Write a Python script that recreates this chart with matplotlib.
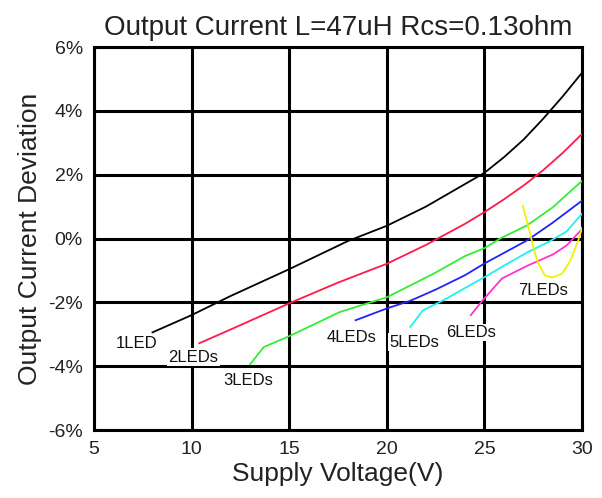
import matplotlib
matplotlib.use("Agg")
import matplotlib.pyplot as plt

plt.rcParams['font.family'] = ['Liberation Sans', 'DejaVu Sans']

# readings taken off the reference plot (V, % deviation)
v_1led = [8.0, 10.0, 12.0, 15.0, 18.0, 20.0, 22.0, 25.0, 26.0, 27.0, 28.0, 29.0, 30.0]
p_1led = [-2.94, -2.4, -1.8, -0.96, -0.08, 0.4, 1.0, 2.06, 2.55, 3.1, 3.75, 4.45, 5.2]

v_2led = [10.4, 12.0, 15.0, 17.5, 20.0, 22.0, 24.0, 25.0, 26.0, 27.0, 28.0, 29.0, 30.0]
p_2led = [-3.28, -2.85, -2.03, -1.38, -0.79, -0.2, 0.46, 0.83, 1.23, 1.66, 2.14, 2.68, 3.28]

v_3led = [13.0, 13.7, 15.0, 17.6, 20.0, 22.4, 24.0, 25.0, 25.8, 27.2, 28.5, 30.0]
p_3led = [-3.94, -3.4, -3.06, -2.3, -1.84, -1.1, -0.55, -0.3, 0.0, 0.42, 0.98, 1.81]

v_4led = [18.4, 20.0, 21.2, 22.5, 24.0, 25.0, 26.0, 27.2, 28.5, 30.0]
p_4led = [-2.56, -2.19, -1.95, -1.6, -1.15, -0.78, -0.45, -0.05, 0.5, 1.19]

v_5led = [21.2, 21.85, 23.0, 24.0, 25.0, 26.0, 27.2, 28.3, 29.2, 30.0]
p_5led = [-2.77, -2.25, -1.9, -1.55, -1.21, -0.85, -0.43, -0.1, 0.22, 0.78]

v_6led = [24.3, 24.9, 25.9, 27.2, 28.5, 29.2, 30.0]
p_6led = [-2.4, -1.94, -1.25, -0.85, -0.5, -0.22, 0.3]

v_7led = [26.96, 27.34, 27.5, 27.75, 28.1, 28.5, 28.97, 29.4, 29.8, 30.0]
p_7led = [1.03, 0.16, -0.28, -0.78, -1.16, -1.22, -1.1, -0.69, -0.06, 0.34]

series = [
    (v_1led, p_1led, "#000000", "1LED", 7.2, -3.28),
    (v_2led, p_2led, "#ff1a4a", "2LEDs", 10.1, -3.72),
    (v_3led, p_3led, "#33ee33", "3LEDs", 12.9, -4.44),
    (v_4led, p_4led, "#2222ff", "4LEDs", 18.2, -3.09),
    (v_5led, p_5led, "#22f0f0", "5LEDs", 21.4, -3.25),
    (v_6led, p_6led, "#ff33cc", "6LEDs", 24.3, -2.94),
    (v_7led, p_7led, "#f2f200", "7LEDs", 28.0, -1.62),
]

x_ticks = [5, 10, 15, 20, 25, 30]
y_ticks = [-6, -4, -2, 0, 2, 4, 6]

fig = plt.figure(figsize=(6.02, 4.98), dpi=100)
ax = fig.add_axes([0.156, 0.1365, 0.811, 0.769])

for v, p, col, name, lx, ly in series:
    ax.plot(v, p, color=col, lw=1.3, zorder=3)
    ax.text(lx, ly, name, fontsize=12, color="#111111", ha="center", va="center", zorder=4,
            bbox=dict(facecolor="white", edgecolor="none", pad=1.0))

ax.set_xlim(5, 30)
ax.set_ylim(-6, 6)
ax.set_xticks(x_ticks)
ax.set_yticks(y_ticks)
ax.set_yticklabels([f"{t}%" for t in y_ticks])
ax.tick_params(length=0, labelsize=14, labelcolor="#222222", pad=8)
ax.grid(True, color="black", lw=2.2, zorder=1)
for s in ax.spines.values():
    s.set_linewidth(2.2)

ax.set_title("Output Current L=47uH Rcs=0.13ohm", fontsize=20, color="#222222", pad=9)
ax.set_xlabel("Supply Voltage(V)", fontsize=19, color="#222222", labelpad=3)
ax.set_ylabel("Output Current Deviation", fontsize=19, color="#222222", labelpad=4)

fig.savefig("out.png", dpi=100)
